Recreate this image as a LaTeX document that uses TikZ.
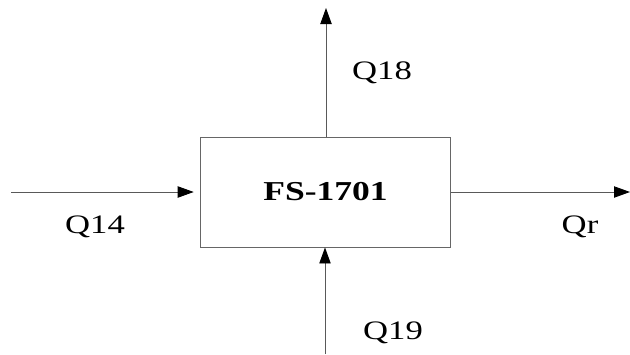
\documentclass[tikz,border=0pt]{standalone}
\usepackage{fontspec}
\setmainfont{Liberation Serif}
\usetikzlibrary{arrows.meta}
\begin{document}
\begin{tikzpicture}[
    x=0.75pt, y=-0.75pt,
    unit/.style={draw=black!60, line width=0.7pt, inner sep=0pt, minimum width=188pt, minimum height=82.5pt},
    flow/.style={draw=black!65, line width=0.7pt, -{Triangle[length=12pt,width=8.5pt,color=black]}},
    lbl/.style={inner sep=0pt, font=\fontsize{20}{23}\selectfont}
]
\useasboundingbox (0,0) rectangle (630,354);
\node[unit] (fs) at (325.5,192) {\scalebox{1.3}[1]{\fontsize{20.5}{24}\selectfont\bfseries FS-1701}};
\coordinate (in14) at (11,192);
\coordinate (out18) at (326,8);
\coordinate (outr) at (630,192);
\coordinate (in19) at (325,354);
\draw[flow, shorten >=4.5pt] (in14) -- (fs.west);
\draw[flow] (fs.north -| out18) -- (out18);
\draw[flow] (fs.east) -- (outr);
\draw[flow] (in19) -- (in19 |- fs.south);
\node[lbl] (q14) at (95,227) {\scalebox{1.3}[1]{Q14}};
\node[lbl] (q18) at (382,73) {\scalebox{1.3}[1]{Q18}};
\node[lbl] (qr) at (580,227) {\scalebox{1.3}[1]{Qr}};
\node[lbl] (q19) at (393,333) {\scalebox{1.3}[1]{Q19}};
\end{tikzpicture}
\end{document}
